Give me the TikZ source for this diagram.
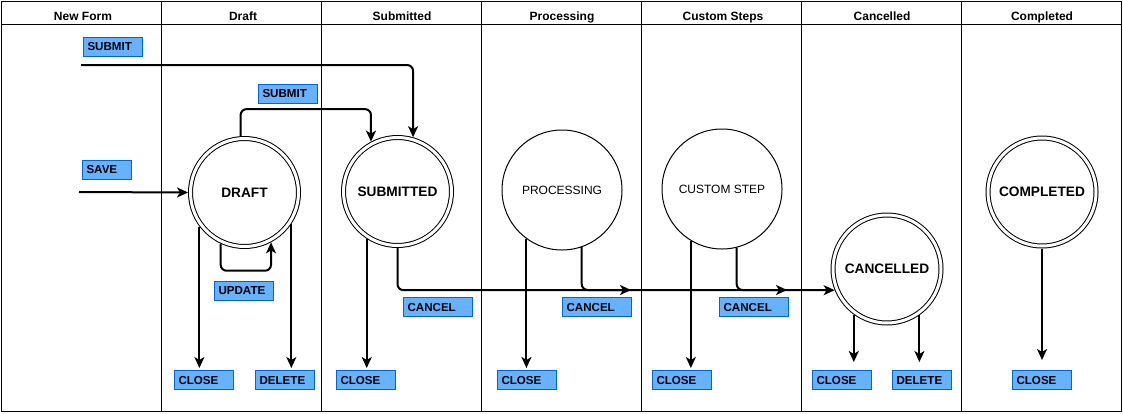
\documentclass[tikz,border=0pt]{standalone}
\usepackage{fontspec}
\setmainfont{Liberation Sans}
\usetikzlibrary{arrows.meta}
\definecolor{boxfill}{HTML}{66B2FF}
\definecolor{boxline}{HTML}{0066CC}
\begin{document}
\begin{tikzpicture}[x=1pt,y=-1pt,%
% common options for the lane headers:
lanehead/.style = {anchor=base, font=\fontsize{12}{14}\selectfont\bfseries},
% common options for the states:
state/.style = {circle, draw, line width=1pt, double, double distance=3pt,
            minimum size=108pt, inner sep=0, outer sep=2.5pt,
            font=\fontsize{13.7}{16}\selectfont\bfseries},
plainstate/.style = {circle, draw, line width=1pt, minimum size=120pt,
            inner sep=0, font=\fontsize{12}{14}\selectfont},
% common options for the action labels:
action/.style = {rectangle, draw=boxline, fill=boxfill, line width=1pt,
            anchor=north west, text width=51pt, inner xsep=4pt, inner ysep=0,
            minimum height=19pt, align=left, font=\fontsize{11.6}{13}\selectfont\bfseries},
% common options for the connectors:
flow/.style = {line width=2pt, rounded corners=6pt,
            -{Stealth[length=11pt,width=10pt,inset=3pt]}}]
\useasboundingbox (0,0) rectangle (1123,413);
% lanes
\draw[line width=1pt] (1,1) rectangle (1121,411);
\draw[line width=1pt] (1,24) -- (1121,24);
\draw[line width=1pt] (161,1) -- (161,411);
\draw[line width=1pt] (321,1) -- (321,411);
\draw[line width=1pt] (481,1) -- (481,411);
\draw[line width=1pt] (641,1) -- (641,411);
\draw[line width=1pt] (801,1) -- (801,411);
\draw[line width=1pt] (961,1) -- (961,411);
\node[lanehead] (hNew) at (83,20) {New Form};
\node[lanehead] (hDraft) at (243,20) {Draft};
\node[lanehead] (hSub) at (402,20) {Submitted};
\node[lanehead] (hProc) at (562,20) {Processing};
\node[lanehead] (hCust) at (723,20) {Custom Steps};
\node[lanehead] (hCanc) at (882,20) {Cancelled};
\node[lanehead] (hComp) at (1042,20) {Completed};
% states
\node[state] (draft) at (244.5,192.5) {DRAFT};
\node[state] (submitted) at (397.5,191.5) {SUBMITTED};
\node[plainstate] (processing) at (562,190) {PROCESSING};
\node[plainstate] (custom) at (722,189) {CUSTOM STEP};
\node[state] (cancelled) at (887,269) {CANCELLED};
\node[state] (completed) at (1042,192) {COMPLETED};
% actions
\node[action] (nfSubmit) at (83,37) {SUBMIT};
\node[action, text width=41pt] (nfSave) at (82,160) {SAVE};
\node[action] (drSubmit) at (258,84) {SUBMIT};
\node[action] (drUpdate) at (214,281) {UPDATE};
\node[action] (drClose) at (174,370) {CLOSE};
\node[action] (drDelete) at (255,370) {DELETE};
\node[action] (suClose) at (336,370) {CLOSE};
\node[action, text width=61pt] (suCancel) at (403,297) {CANCEL};
\node[action] (prClose) at (497,370) {CLOSE};
\node[action, text width=61pt] (prCancel) at (562,297) {CANCEL};
\node[action] (cuClose) at (652,370) {CLOSE};
\node[action, text width=61pt] (cuCancel) at (719,297) {CANCEL};
\node[action] (caClose) at (812,370) {CLOSE};
\node[action] (caDelete) at (892,370) {DELETE};
\node[action] (coClose) at (1012,370) {CLOSE};
% connectors
\coordinate (nfSubmitIn) at (81,65);
\coordinate (nfSaveIn) at (79,192);
\coordinate (prCancelEnd) at (631,290);
\coordinate (cuCancelEnd) at (787,290);
\draw[flow] (nfSubmitIn) -| (submitted.74);
\draw[flow] (nfSaveIn) -- (draft.west);
\draw[flow] (draft.94) -- ++(0,-27) -| (submitted.118);
\draw[flow] (draft.245) -- ++(0,27) -| (draft.298);
\draw[flow, shorten >=2pt] (draft.217) -- (draft.217 |- drClose.north);
\draw[flow, shorten >=2pt] (draft.326) -- (draft.326 |- drDelete.north);
\draw[flow, shorten >=2pt] (submitted.237) -- (submitted.237 |- suClose.north);
\draw[flow] (submitted.south) |- (cancelled.202);
\draw[flow, shorten >=2pt] (processing.234) -- (processing.234 |- prClose.north);
\draw[flow] (processing.289) |- (prCancelEnd);
\draw[flow, shorten >=2pt] (custom.239) -- (custom.239 |- cuClose.north);
\draw[flow] (custom.284) |- (cuCancelEnd);
\draw[flow, shorten >=8pt] (cancelled.234) -- (cancelled.234 |- caClose.north);
\draw[flow, shorten >=8pt] (cancelled.305) -- (cancelled.305 |- caDelete.north);
\draw[flow, shorten >=10pt] (completed.south) -- (completed.south |- coClose.north);
\end{tikzpicture}
\end{document}
